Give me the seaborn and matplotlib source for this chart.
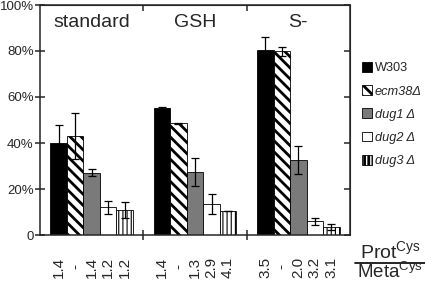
import matplotlib
matplotlib.use("Agg")
import matplotlib.pyplot as plt
from matplotlib.patches import Patch
from matplotlib.lines import Line2D
import pandas as pd
import seaborn as sns

# ── data ──
conditions = ["standard", "GSH", "S-"]
strains = ["W303", "ecm38Δ", "dug1 Δ", "dug2 Δ", "dug3 Δ"]
values = {
    "W303":   [40.0, 55.0, 80.5],
    "ecm38Δ": [43.0, 48.5, 79.8],
    "dug1 Δ": [27.0, 27.5, 32.5],
    "dug2 Δ": [12.0, 13.5, 6.0],
    "dug3 Δ": [11.0, 10.5, 3.5],
}
errors = {
    "W303":   [8.0, 0.5, 5.5],
    "ecm38Δ": [10.0, 0.4, 2.0],
    "dug1 Δ": [1.5, 6.0, 6.0],
    "dug2 Δ": [3.0, 4.5, 1.5],
    "dug3 Δ": [3.5, 0.0, 1.2],
}
ratio_labels = {
    "W303":   ["1.4", "1.4", "3.5"],
    "ecm38Δ": ["-", "-", "-"],
    "dug1 Δ": ["1.4", "1.3", "2.0"],
    "dug2 Δ": ["1.2", "2.9", "3.2"],
    "dug3 Δ": ["1.2", "4.1", "3.1"],
}
ytick_vals = [0, 20, 40, 60, 80, 100]
ytick_labels = ["0", "20%", "40%", "60%", "80%", "100%"]

COLORS = {"W303": "black", "ecm38Δ": "white", "dug1 Δ": "#7a7a7a",
          "dug2 Δ": "white", "dug3 Δ": "white"}
HATCH = {"ecm38Δ": ("\\\\\\", 2.0), "dug3 Δ": ("||||", 0.8)}

df = pd.DataFrame([
    {"condition": c, "strain": s, "value": values[s][i]}
    for s in strains for i, c in enumerate(conditions)
])

sns.set_style("ticks")
plt.rcParams["font.family"] = ["Liberation Sans", "DejaVu Sans"]
plt.rcParams["hatch.linewidth"] = 2.0

fig = plt.figure(figsize=(4.25, 2.83), dpi=100)
ax = fig.add_axes([40 / 425, 48 / 283, 310 / 425, 230 / 283])

sns.barplot(data=df, x="condition", y="value", hue="strain",
            order=conditions, hue_order=strains, palette=COLORS,
            edgecolor="black", linewidth=0.6, width=0.8,
            errorbar=None, legend=False, ax=ax)

# hatching + error bars, positioned from the drawn bars
centers, labels = [], []
for s, cont in zip(strains, ax.containers):
    xs, hs = [], []
    for i, bar in enumerate(cont):
        if s in HATCH:
            bar.set_hatch(HATCH[s][0])
            if hasattr(bar, "set_hatch_linewidth"):
                bar.set_hatch_linewidth(HATCH[s][1])
        x = bar.get_x() + bar.get_width() / 2
        xs.append(x)
        hs.append(bar.get_height())
        centers.append(x)
        labels.append(ratio_labels[s][i])
    ax.errorbar(xs, hs, yerr=errors[s], fmt="none", ecolor="black",
                elinewidth=0.9, capsize=3, capthick=0.9)

ax.set_xlim(-0.5, 2.5)
ax.set_ylim(0, 100)
ax.set_xlabel("")
ax.set_ylabel("")

ax.set_yticks(ytick_vals, ytick_labels, fontsize=9.5)
ax.tick_params(axis="y", direction="inout", length=7, width=1.1, pad=1)

ax.set_xticks(centers, labels, rotation=90, fontsize=11)
for t in ax.get_xticklabels():
    t.set_va("center")
ax.tick_params(axis="x", which="major", length=0, pad=23)
ax.set_xticks([0.5, 1.5], minor=True)
ax.tick_params(axis="x", which="minor", direction="inout", length=7, width=1.1)

for sp in ax.spines.values():
    sp.set_visible(True)
    sp.set_linewidth(1.1)

sec_y = ax.secondary_yaxis("right")
sec_y.set_yticks(ytick_vals)
sec_y.tick_params(direction="in", length=4, width=1.1, labelright=False)
sec_x = ax.secondary_xaxis("top")
sec_x.set_xticks([0.5, 1.5])
sec_x.tick_params(direction="in", length=4, width=1.1, labeltop=False)

# group titles
for i, c in enumerate(conditions):
    ax.text(i, 0.925, c, transform=ax.get_xaxis_transform(),
            ha="center", va="center", fontsize=14)

# legend
handles = []
for s in strains:
    h = Patch(facecolor=COLORS[s], edgecolor="black", linewidth=0.6)
    if s in HATCH:
        h.set_hatch(HATCH[s][0])
    handles.append(h)
leg = fig.legend(handles, strains, loc="upper left",
                 bbox_to_anchor=(362 / 425, 1 - 62 / 283), frameon=False,
                 fontsize=9.2, handlelength=0.75, handleheight=0.8,
                 handletextpad=0.25, labelspacing=0.85, borderpad=0,
                 borderaxespad=0)
for t, s in zip(leg.get_texts(), strains):
    if s != "W303":
        t.set_style("italic")

# Prot/Meta ratio label
fig.text(390 / 425, 1 - 259 / 283, r"Prot$^{\mathregular{Cys}}$",
         ha="center", va="baseline", fontsize=14)
fig.add_artist(Line2D([355 / 425, 1.0], [1 - 262.5 / 283] * 2,
                      transform=fig.transFigure, color="black", lw=1.2))
fig.text(390 / 425, 1 - 278.5 / 283, r"Meta$^{\mathregular{Cys}}$",
         ha="center", va="baseline", fontsize=13.5)

fig.savefig("out.png", dpi=100)
